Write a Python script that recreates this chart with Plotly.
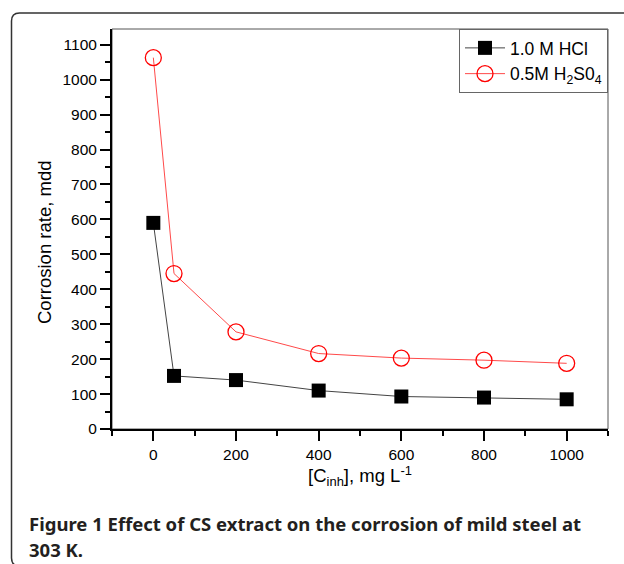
import plotly.graph_objects as go

conc = [0, 50, 200, 400, 600, 800, 1000]
hcl = [590, 152, 140, 110, 93, 90, 85]
h2so4 = [1063, 445, 278, 216, 203, 197, 188]
names = ["1.0 M HCl", "0.5M H<sub>2</sub>S0<sub>4</sub>"]
x_title = "[C<sub>inh</sub>], mg L<sup>-1</sup>"
y_title = "Corrosion rate, mdd"
caption = ["Figure 1 Effect of CS extract on the corrosion of mild steel at", "303 K."]

W, H = 624, 564
L, R, T, B = 112, 16, 29, 135
pw, ph = W - L - R, H - T - B

def px(x):
    return (x - L) / pw

def py(y):
    return (H - B - y) / ph

fig = go.Figure()
fig.add_trace(go.Scatter(
    x=conc, y=hcl, name=names[0], mode="lines+markers",
    line=dict(color="#444444", width=1),
    marker=dict(symbol="square", size=14, color="black", line=dict(width=0)),
))
fig.add_trace(go.Scatter(
    x=conc, y=h2so4, name=names[1], mode="lines+markers",
    line=dict(color="#ff4a4a", width=1),
    marker=dict(symbol="circle-open", size=16, color="#ff0000", line=dict(width=1.3)),
))

font_main = "Liberation Sans, Arial, sans-serif"

fig.update_layout(
    width=W, height=H,
    margin=dict(l=L, r=R, t=T, b=B, pad=0),
    paper_bgcolor="white", plot_bgcolor="white",
    font=dict(family=font_main, size=15.5, color="black"),
    showlegend=True,
    legend=dict(
        x=1, y=1, xanchor="right", yanchor="top",
        bordercolor="#666666", borderwidth=1, bgcolor="white",
        font=dict(size=17.5, family=font_main),
        itemwidth=40,
        tracegroupgap=0,
    ),
    xaxis=dict(
        range=[-100, 1100], tick0=0, dtick=200,
        ticks="outside", ticklen=10, tickwidth=2, tickcolor="black",
        showline=True, linecolor="black", linewidth=2, mirror=False,
        showgrid=False, zeroline=False,
        minor=dict(dtick=100, tick0=0, ticks="outside", ticklen=5, tickwidth=2, tickcolor="black", showgrid=False),
        tickfont=dict(size=15.5),
        title=dict(text=x_title, font=dict(size=18.5), standoff=5),
    ),
    yaxis=dict(
        range=[0, 1145], tick0=0, dtick=100,
        ticks="outside", ticklen=10, tickwidth=2, tickcolor="black",
        showline=True, linecolor="black", linewidth=2, mirror=False,
        showgrid=False, zeroline=False,
        minor=dict(dtick=50, tick0=0, ticks="outside", ticklen=5, tickwidth=2, tickcolor="black", showgrid=False),
        tickfont=dict(size=15.5),
    ),
)

# y-axis title placed as in the reference (slightly below the plot centre)
fig.add_annotation(text=y_title, xref="paper", yref="paper", x=px(45), y=py(243),
                   xanchor="center", yanchor="middle", textangle=-90, showarrow=False,
                   font=dict(size=18.5, family=font_main, color="black"))

# plot box (top/right)
fig.add_shape(type="rect", xref="paper", yref="paper", x0=0, y0=0, x1=1, y1=1,
              line=dict(color="#555555", width=1), layer="below")

# outer rounded frame
x0, yt, yb, xr = px(11.5), py(13), py(566), px(650)
rx, ry = 8 / pw, 8 / ph
path = (f"M {xr},{yt} L {x0+rx},{yt} Q {x0},{yt} {x0},{yt-ry} "
        f"L {x0},{yb+ry} Q {x0},{yb} {x0+rx},{yb} L {xr},{yb}")
fig.add_shape(type="path", xref="paper", yref="paper", path=path,
              line=dict(color="#333333", width=1.5))

cap_font = dict(family="Noto Sans, Open Sans, sans-serif", size=18.5, color="#231f20", weight="bold")
fig.add_annotation(text=caption[0], xref="paper", yref="paper", x=px(27), y=py(523),
                   xanchor="left", yanchor="middle", showarrow=False, font=cap_font)
fig.add_annotation(text=caption[1], xref="paper", yref="paper", x=px(27), y=py(549),
                   xanchor="left", yanchor="middle", showarrow=False, font=cap_font)

fig.write_html("out.html")
